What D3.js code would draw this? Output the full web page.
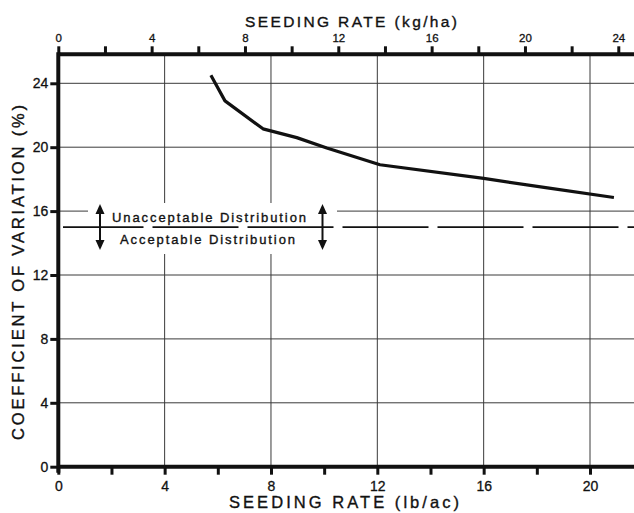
<!DOCTYPE html>
<html><head><meta charset="utf-8">
<script src="https://cdn.jsdelivr.net/npm/d3@7"></script>
<style>body{margin:0;background:#fff}svg{display:block}</style>
</head><body>
<svg id="c" width="634" height="513"></svg>
<script>
// Data: seeding rate (lb/ac) vs coefficient of variation (%)
const seedingRate = [5.74, 6.27, 7.7, 8.97, 10.1, 12.1, 16.0, 18.4, 20.9];
const cv = [24.5, 22.9, 21.15, 20.6, 19.95, 18.9, 18.05, 17.45, 16.85];
const lbTicks = [0, 4, 8, 12, 16, 20];
const kgTicks = [0, 4, 8, 12, 16, 20, 24];
const cvTicks = [0, 4, 8, 12, 16, 20, 24];
const threshold = 15;
const upperLabel = "Unacceptable Distribution";
const lowerLabel = "Acceptable Distribution";
const titleTop = "SEEDING RATE (kg/ha)";
const titleBottom = "SEEDING RATE (lb/ac)";
const titleLeft = "COEFFICIENT OF VARIATION (%)";

const svg = d3.select("#c");
const L = 58.3, R = 634, T = 54.3, B = 466.7;
const x = d3.scaleLinear().domain([0, 20]).range([L, 590]);
const xTop = d3.scaleLinear().domain([0, 24]).range([L, 618.3]);
const y = d3.scaleLinear().domain([0, 24]).range([B, 83.3]);
const font = "'Liberation Sans', Arial, sans-serif";
const ink = "#111";

// gridlines
const g = svg.append("g").attr("stroke", "#3a3a3a").attr("stroke-width", 1);
lbTicks.filter(d => d > 0).forEach(d => {
  g.append("line").attr("x1", x(d)).attr("x2", x(d)).attr("y1", T).attr("y2", B);
});
cvTicks.filter(d => d > 0).forEach(d => {
  g.append("line").attr("x1", L).attr("x2", R).attr("y1", y(d)).attr("y2", y(d));
});

// legend box (masks grid)
svg.append("rect").attr("x", 88).attr("y", 203).attr("width", 249).attr("height", 51).attr("fill", "#fff");

// threshold dashed line
svg.append("line").attr("x1", 63).attr("x2", R).attr("y1", y(threshold)).attr("y2", y(threshold))
  .attr("stroke", ink).attr("stroke-width", 1.8).attr("stroke-dasharray", "86,9").attr("stroke-dashoffset", 5.5);

// arrows
function dblArrow(ax) {
  const top = 204, bot = 250, hw = 4.5, hh = 10;
  svg.append("line").attr("x1", ax).attr("x2", ax).attr("y1", top + 4).attr("y2", bot - 4)
    .attr("stroke", ink).attr("stroke-width", 2);
  svg.append("path").attr("d", `M${ax},${top} L${ax-hw},${top+hh} L${ax+hw},${top+hh} Z`).attr("fill", ink);
  svg.append("path").attr("d", `M${ax},${bot} L${ax-hw},${bot-hh} L${ax+hw},${bot-hh} Z`).attr("fill", ink);
}
dblArrow(100);
dblArrow(322.5);

const txt = (sel, size) => sel.attr("font-family", font).attr("font-size", size).attr("fill", ink)
  .attr("stroke", ink).attr("stroke-width", 0.35);

txt(svg.append("text").attr("x", 112).attr("y", 222).attr("textLength", 194).attr("lengthAdjust", "spacing"), 13).text(upperLabel);
txt(svg.append("text").attr("x", 120).attr("y", 243.5).attr("textLength", 175).attr("lengthAdjust", "spacing"), 13).text(lowerLabel);

// curve
const line = d3.line().x((d, i) => x(seedingRate[i])).y((d, i) => y(cv[i]));
svg.append("path").datum(cv).attr("d", line).attr("fill", "none").attr("stroke", ink)
  .attr("stroke-width", 3.2).attr("stroke-linejoin", "round");

// axes
const axStyle = (sel, size) => {
  sel.select(".domain").remove();
  sel.selectAll(".tick line").attr("stroke", ink).attr("stroke-width", 3);
  sel.selectAll(".tick text").attr("fill", ink).attr("font-family", font).attr("font-size", size)
    .attr("stroke", ink).attr("stroke-width", 0.3);
};
// bottom
const bottomAx = svg.append("g").attr("transform", `translate(0,${B})`)
  .call(d3.axisBottom(x).tickValues(d3.range(0, 22, 2)).tickSize(8).tickPadding(6)
    .tickFormat(d => lbTicks.includes(d) ? d : ""));
axStyle(bottomAx, 14);
// top
const topAx = svg.append("g").attr("transform", `translate(0,${T})`)
  .call(d3.axisTop(xTop).tickValues(d3.range(0, 26, 2)).tickSize(8).tickPadding(4)
    .tickFormat(d => kgTicks.includes(d) ? d : ""));
axStyle(topAx, 11.5);
// left
const leftAx = svg.append("g").attr("transform", `translate(${L},0)`)
  .call(d3.axisLeft(y).tickValues(cvTicks).tickSize(8).tickPadding(2));
axStyle(leftAx, 14);

// thick frame lines
svg.append("line").attr("x1", L).attr("x2", R).attr("y1", T).attr("y2", T).attr("stroke", ink).attr("stroke-width", 4);
svg.append("line").attr("x1", L).attr("x2", R).attr("y1", B).attr("y2", B).attr("stroke", ink).attr("stroke-width", 4);
svg.append("line").attr("x1", L).attr("x2", L).attr("y1", T - 2).attr("y2", B + 6).attr("stroke", ink).attr("stroke-width", 4);

// titles
txt(svg.append("text").attr("x", 245).attr("y", 27).attr("textLength", 212).attr("lengthAdjust", "spacing"), 15.5).text(titleTop);
txt(svg.append("text").attr("x", 229).attr("y", 508).attr("textLength", 230).attr("lengthAdjust", "spacing"), 16.5).text(titleBottom);
txt(svg.append("text").attr("transform", "translate(24,440) rotate(-90)").attr("textLength", 335).attr("lengthAdjust", "spacing"), 16.5).text(titleLeft);
</script>
</body></html>
